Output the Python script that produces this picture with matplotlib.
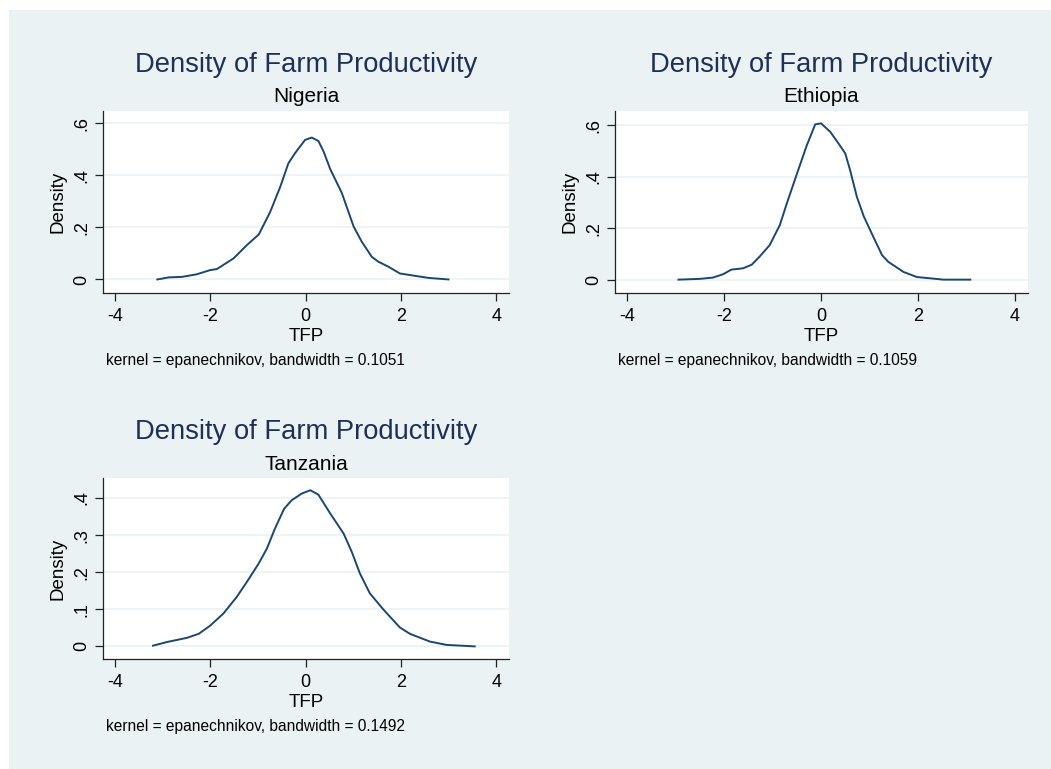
import matplotlib
matplotlib.use("Agg")
import matplotlib.pyplot as plt
from matplotlib.patches import Rectangle

plt.rcParams['font.family'] = ['Liberation Sans', 'DejaVu Sans']

# values
nga_x = [-3.11, -2.87, -2.59, -2.28, -2.0, -1.86, -1.51, -1.23, -0.98, -0.74, -0.53, -0.36,
         -0.22, -0.01, 0.13, 0.27, 0.38, 0.52, 0.76, 1.01, 1.18, 1.39, 1.53, 1.74, 1.98,
         2.26, 2.58, 3.0]
nga_y = [0.0, 0.008, 0.010, 0.020, 0.036, 0.040, 0.081, 0.132, 0.173, 0.26, 0.356, 0.446,
         0.485, 0.536, 0.545, 0.532, 0.491, 0.423, 0.333, 0.203, 0.145, 0.087, 0.068, 0.049,
         0.023, 0.015, 0.006, 0.0]

eth_x = [-2.94, -2.50, -2.23, -2.02, -1.85, -1.61, -1.43, -1.26, -1.06, -0.85, -0.71, -0.50,
         -0.30, -0.12, 0.0, 0.19, 0.36, 0.50, 0.60, 0.74, 0.88, 1.08, 1.26, 1.39, 1.70, 1.98,
         2.26, 2.53, 3.08]
eth_y = [0.0, 0.003, 0.008, 0.021, 0.039, 0.044, 0.058, 0.091, 0.134, 0.212, 0.294, 0.410,
         0.519, 0.604, 0.608, 0.575, 0.530, 0.491, 0.426, 0.322, 0.247, 0.166, 0.095, 0.069,
         0.030, 0.010, 0.005, 0.0, 0.0]

tza_x = [-3.20, -2.90, -2.49, -2.24, -2.0, -1.72, -1.44, -1.23, -0.98, -0.81, -0.64, -0.45,
         -0.29, -0.08, 0.10, 0.27, 0.52, 0.80, 0.97, 1.14, 1.35, 1.63, 1.98, 2.19, 2.61, 2.96,
         3.55]
tza_y = [0.002, 0.012, 0.023, 0.034, 0.056, 0.089, 0.134, 0.174, 0.224, 0.264, 0.318, 0.371,
         0.394, 0.412, 0.421, 0.409, 0.358, 0.304, 0.255, 0.197, 0.143, 0.100, 0.051, 0.034,
         0.013, 0.004, 0.0]

countries = ["Nigeria", "Ethiopia", "Tanzania"]
bandwidths = ["0.1051", "0.1059", "0.1492"]
x_ticks = [-4, -2, 0, 2, 4]
y_ticks_top = [0, 0.2, 0.4, 0.6]
y_labels_top = ["0", ".2", ".4", ".6"]
y_ticks_bot = [0, 0.1, 0.2, 0.3, 0.4]
y_labels_bot = ["0", ".1", ".2", ".3", ".4"]

BG = "#EAF2F3"
NAVY = "#1A476F"
TITLE = "#1E2F5A"

W, H = 1051, 769
fig = plt.figure(figsize=(W / 100, H / 100), dpi=100)
fig.patch.set_facecolor("white")
fig.patches.append(Rectangle((9 / W, 0), 1 - 9 / W, 1 - 10 / H, transform=fig.transFigure,
                             facecolor=BG, edgecolor="none", zorder=-10))


def panel(box, xs, ys, name, bw, yticks, ylabels, ylim):
    l, t, r, b = box  # pixels
    ax = fig.add_axes([l / W, 1 - b / H, (r - l) / W, (b - t) / H])
    ax.set_facecolor("white")
    ax.plot(xs, ys, color=NAVY, lw=1.4, zorder=3)
    ax.set_xlim(-4.25, 4.27)
    ax.set_ylim(*ylim)
    ax.set_xticks(x_ticks)
    ax.set_xticklabels([str(v) for v in x_ticks], fontsize=13)
    ax.set_yticks(yticks)
    ax.set_yticklabels(ylabels, fontsize=13, rotation=90, va="center")
    ax.grid(axis="y", color=BG, lw=1.2)
    ax.grid(axis="x", visible=False)
    ax.set_axisbelow(True)
    for s in ["top", "right"]:
        ax.spines[s].set_visible(False)
    for s in ["left", "bottom"]:
        ax.spines[s].set_color("#222222")
        ax.spines[s].set_linewidth(0.9)
    ax.tick_params(length=6, width=0.9, color="#222222")
    ax.tick_params(axis="x", pad=5)
    ax.tick_params(axis="y", pad=3)
    ax.set_xlabel("TFP", fontsize=13.5, labelpad=2)
    ax.set_ylabel("Density", fontsize=13.5, labelpad=5)
    cx = (l + r) / 2 / W
    fig.text(cx, 1 - (t - 46) / H, "Density of Farm Productivity", color=TITLE,
             fontsize=19.7, ha="center", va="center")
    fig.text(cx, 1 - (t - 14) / H, name, color="black", fontsize=15,
             ha="center", va="center")
    fig.text((l + 3) / W, 1 - (b + 68) / H,
             "kernel = epanechnikov, bandwidth = " + bw, fontsize=11.2,
             ha="left", va="center")
    return ax


panel((103, 111, 509, 293), nga_x, nga_y, countries[0], bandwidths[0],
      y_ticks_top, y_labels_top, (-0.052, 0.647))
panel((615, 111, 1028, 293), eth_x, eth_y, countries[1], bandwidths[1],
      y_ticks_top, y_labels_top, (-0.052, 0.656))
panel((103, 478, 509, 659), tza_x, tza_y, countries[2], bandwidths[2],
      y_ticks_bot, y_labels_bot, (-0.034, 0.454))

fig.savefig("out.png", dpi=100, facecolor=fig.get_facecolor())
